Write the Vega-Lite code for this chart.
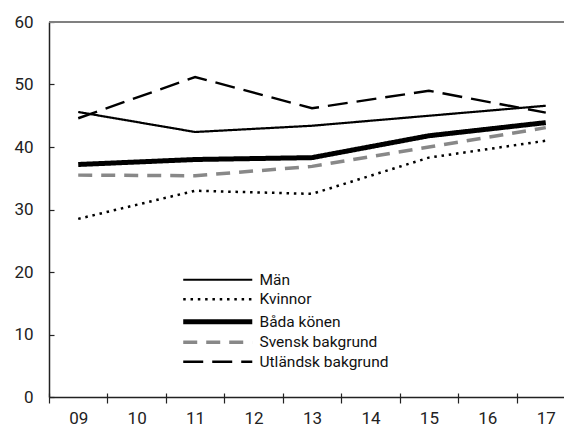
{
  "$schema": "https://vega.github.io/schema/vega-lite/v6.json",
  "width": 526,
  "height": 375,
  "autosize": "none",
  "padding": {"left": 49, "top": 22, "right": 0, "bottom": 31},
  "config": {
    "font": "Roboto",
    "view": {"stroke": null},
    "axis": {"labelFont": "Roboto", "labelFontSize": 17, "labelColor": "#222", "domainColor": "#222", "tickColor": "#222", "domainWidth": 1.5, "tickWidth": 1.2},
    "legend": {"labelFont": "Roboto"}
  },
  "data": {"values": [
    {"year": "09", "series": "Män", "value": 45.6},
    {"year": "11", "series": "Män", "value": 42.4},
    {"year": "13", "series": "Män", "value": 43.4},
    {"year": "15", "series": "Män", "value": 45.0},
    {"year": "17", "series": "Män", "value": 46.6},
    {"year": "09", "series": "Kvinnor", "value": 28.5},
    {"year": "11", "series": "Kvinnor", "value": 33.0},
    {"year": "13", "series": "Kvinnor", "value": 32.5},
    {"year": "15", "series": "Kvinnor", "value": 38.3},
    {"year": "17", "series": "Kvinnor", "value": 41.0},
    {"year": "09", "series": "Båda könen", "value": 37.2},
    {"year": "11", "series": "Båda könen", "value": 38.0},
    {"year": "13", "series": "Båda könen", "value": 38.3},
    {"year": "15", "series": "Båda könen", "value": 41.8},
    {"year": "17", "series": "Båda könen", "value": 43.9},
    {"year": "09", "series": "Svensk bakgrund", "value": 35.5},
    {"year": "11", "series": "Svensk bakgrund", "value": 35.4},
    {"year": "13", "series": "Svensk bakgrund", "value": 36.9},
    {"year": "15", "series": "Svensk bakgrund", "value": 40.0},
    {"year": "17", "series": "Svensk bakgrund", "value": 43.1},
    {"year": "09", "series": "Utländsk bakgrund", "value": 44.6},
    {"year": "11", "series": "Utländsk bakgrund", "value": 51.2},
    {"year": "13", "series": "Utländsk bakgrund", "value": 46.2},
    {"year": "15", "series": "Utländsk bakgrund", "value": 49.0},
    {"year": "17", "series": "Utländsk bakgrund", "value": 45.5}
  ]},
  "resolve": {"axis": {"x": "independent"}},
  "layer": [
    {
      "mark": {"type": "rule", "color": "#808080", "strokeWidth": 1.5},
      "encoding": {"y": {"datum": 60, "type": "quantitative"}}
    },
    {
      "mark": {"type": "line", "opacity": 0},
      "encoding": {
        "x": {"field": "year", "type": "ordinal", "scale": {"type": "band", "domain": ["09","10","11","12","13","14","15","16","17"], "paddingInner": 0, "paddingOuter": 0},
              "axis": {"orient": "bottom", "title": null, "labels": false, "domain": false, "tickSize": -4, "tickBand": "extent"}},
        "y": {"field": "value", "type": "quantitative"},
        "detail": {"field": "series"}
      }
    },
    {
      "mark": {"type": "line"},
      "encoding": {
        "x": {"field": "year", "type": "ordinal", "scale": {"type": "band", "domain": ["09","10","11","12","13","14","15","16","17"], "paddingInner": 0, "paddingOuter": 0},
              "axis": {"orient": "bottom", "title": null, "labelAngle": 0, "tickSize": 6, "tickBand": "extent", "labelPadding": 7}},
        "y": {"field": "value", "type": "quantitative", "scale": {"domain": [0, 60], "nice": false},
              "axis": {"title": null, "values": [0,10,20,30,40,50,60], "tickSize": -5, "labelPadding": 21, "grid": false}},
        "color": {"field": "series", "type": "nominal", "scale": {"domain": ["Män","Kvinnor","Båda könen","Svensk bakgrund","Utländsk bakgrund"], "range": ["#000000","#000000","#000000","#888888","#000000"]},
                  "legend": {"title": null, "orient": "none", "legendX": 135, "legendY": 250, "symbolType": "M-4,0H4", "symbolSize": 298, "symbolFillColor": "transparent", "symbolOffset": 26, "labelFontSize": 15.5, "labelOffset": 34, "rowPadding": 2.5, "labelColor": "#111",
                    "encode": {"symbols": {"update": {"strokeWidth": {"signal": "datum.label === 'Båda könen' ? 5 : datum.label === 'Svensk bakgrund' ? 3.5 : datum.label === 'Kvinnor' ? 2.5 : datum.label === 'Utländsk bakgrund' ? 2.4 : 2.2"}}}}}},
        "strokeWidth": {"condition": [
          {"test": "datum.series === 'Båda könen'", "value": 5},
          {"test": "datum.series === 'Svensk bakgrund'", "value": 3.5},
          {"test": "datum.series === 'Kvinnor'", "value": 2.5},
          {"test": "datum.series === 'Utländsk bakgrund'", "value": 2.4}
        ], "value": 2.2},
        "strokeDash": {"field": "series", "type": "nominal", "scale": {"domain": ["Män","Kvinnor","Båda könen","Svensk bakgrund","Utländsk bakgrund"], "range": [[1,0],[2.5,4.8],[1,0],[14,9],[20,9]]},
                  "legend": {"title": null}}
      }
    }
  ]
}
